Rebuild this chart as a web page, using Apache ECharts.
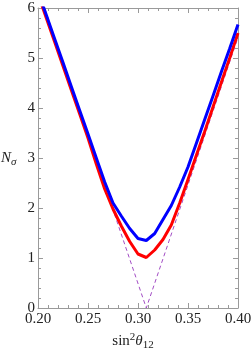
<!DOCTYPE html>
<html><head><meta charset="utf-8">
<script src="https://cdn.jsdelivr.net/npm/echarts@6/dist/echarts.min.js"></script>
<style>html,body{margin:0;padding:0;background:#fff}#c{width:251px;height:354px}</style>
</head><body><div id="c"></div>
<script>
// sin^2(theta12) sample points
const xs = [0.2000,0.2083,0.2167,0.2250,0.2333,0.2417,0.2500,0.2583,0.2667,0.2750,0.2833,0.2917,0.3000,0.3083,0.3167,0.3250,0.3333,0.3417,0.3500,0.3583,0.3667,0.3750,0.3833,0.3917,0.4000];
const blueN = [6.33,5.86,5.38,4.91,4.43,3.95,3.48,3.00,2.52,2.10,1.84,1.59,1.39,1.35,1.49,1.77,2.05,2.42,2.82,3.29,3.77,4.24,4.72,5.19,5.67];
const redN  = [6.28,5.80,5.32,4.84,4.36,3.88,3.40,2.88,2.38,1.98,1.64,1.33,1.08,1.01,1.16,1.37,1.66,2.10,2.57,3.05,3.53,4.02,4.51,5.00,5.50];
const dashX = [0.2000,0.3083,0.4000];
const dashN = [6.39,0.00,5.41];
const xTicks = [0.20,0.25,0.30,0.35,0.40];
const yTicks = [0,1,2,3,4,5,6];

const font = "'Liberation Serif','Times New Roman',serif";
const frameColor = '#9a9a9a';
const pair = (a,b)=>a.map((v,i)=>[v,b[i]]);

const axisCommon = {
  axisLine:{show:true,onZero:false,lineStyle:{color:frameColor,width:1}},
  axisTick:{show:true,inside:true,length:5,lineStyle:{color:frameColor}},
  minorTick:{show:true,splitNumber:5,length:3,lineStyle:{color:frameColor}},
  splitLine:{show:false}
};
const chart = echarts.init(document.getElementById('c'),null,{renderer:'canvas'});
chart.setOption({
  animation:false,
  grid:{left:38,right:13,top:8,bottom:46,containLabel:false,outerBoundsMode:'none'},
  graphic:[{
    type:'text',left:1,top:151,silent:true,
    style:{text:'{n|N}{g|σ}',fill:'#222',font:'15px '+font,
      rich:{n:{fontFamily:font,fontSize:15,fontStyle:'italic',fill:'#222',color:'#222'},
            g:{fontFamily:font,fontSize:11,fontStyle:'italic',fill:'#222',color:'#222',padding:[7,0,0,0]}}}
  }],
  xAxis:[
    Object.assign({type:'value',min:xTicks[0],max:xTicks[xTicks.length-1],interval:0.05,position:'bottom',
      axisLabel:{show:true,color:'#222',fontFamily:font,fontSize:15,margin:4,formatter:v=>v.toFixed(2)},
      name:'{a|sin}{s|2}{t|θ}{b|12}',nameLocation:'middle',nameGap:24,
      nameTextStyle:{color:'#222',fontFamily:font,fontSize:15,padding:[0,10,0,0],
        rich:{a:{fontFamily:font,fontSize:15,color:'#222'},
              s:{fontFamily:font,fontSize:11,color:'#222',padding:[0,0,8,0]},
              t:{fontFamily:font,fontSize:15,fontStyle:'italic',color:'#222'},
              b:{fontFamily:font,fontSize:11,color:'#222',padding:[7,0,0,0]}}}
    },axisCommon),
    Object.assign({type:'value',min:xTicks[0],max:xTicks[xTicks.length-1],interval:0.05,position:'top',
      axisLabel:{show:false}},axisCommon)
  ],
  yAxis:[
    Object.assign({type:'value',min:yTicks[0],max:yTicks[yTicks.length-1],interval:1,position:'left',
      axisLabel:{show:true,color:'#222',fontFamily:font,fontSize:15,margin:3}
    },axisCommon),
    Object.assign({type:'value',min:yTicks[0],max:yTicks[yTicks.length-1],interval:1,position:'right',
      axisLabel:{show:false}},axisCommon)
  ],
  series:[
    {type:'line',data:pair(dashX,dashN),showSymbol:false,clip:true,
      lineStyle:{color:'#a24cc4',width:1,type:[4,3]},z:1},
    {type:'line',data:pair(xs,redN),showSymbol:false,clip:true,
      lineStyle:{color:'#ff0000',width:3},z:2},
    {type:'line',data:pair(xs,blueN),showSymbol:false,clip:true,
      lineStyle:{color:'#0000ff',width:3},z:3}
  ]
});
</script></body></html>
